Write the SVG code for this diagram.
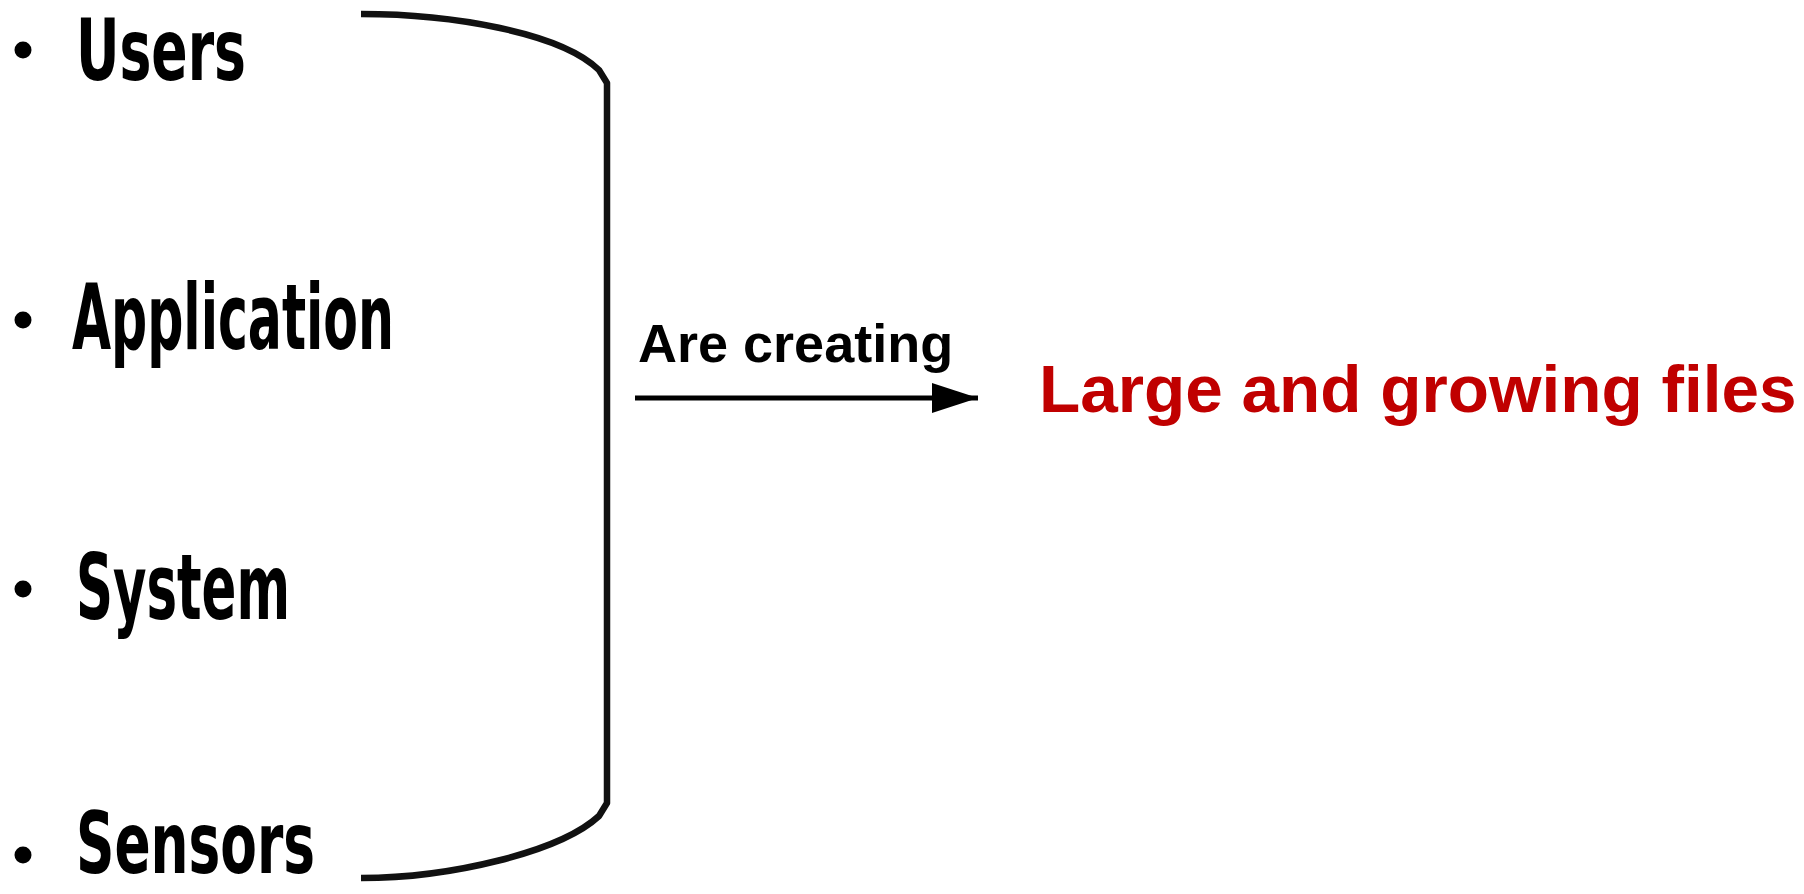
<svg xmlns="http://www.w3.org/2000/svg" width="1804" height="894" viewBox="0 0 1804 894">
  <style>
    .src { font-family: "DejaVu Sans Condensed", "DejaVu Sans", sans-serif; font-weight: bold; font-stretch: condensed; font-size: 90px; fill: #000; }
    .edge { font-size: 86px; }
    .bullet { fill: #000; }
    .lbl { font-family: "Liberation Sans", Arial, sans-serif; font-weight: bold; font-size: 54px; fill: #000; }
    .out { font-family: "Liberation Sans", Arial, sans-serif; font-weight: bold; font-size: 67.5px; fill: #C00000; }
    .brace { fill: none; stroke: #111; stroke-width: 6.5; stroke-linejoin: round; }
    .flow { fill: none; stroke: #000; stroke-width: 5; }
  </style>
  <defs>
    <marker id="arrowhead" markerUnits="userSpaceOnUse" markerWidth="46" markerHeight="30" refX="46" refY="15" orient="auto">
      <path d="M0,0 L46,15 L0,30 Z" fill="#000"/>
    </marker>
  </defs>
  <rect width="1804" height="894" fill="#fff"/>

  <!-- sources -->
  <g id="users">
    <circle class="bullet" cx="23" cy="50" r="8.5"/>
    <text class="src edge" x="76" y="80" textLength="170" lengthAdjust="spacingAndGlyphs">Users</text>
  </g>
  <g id="application">
    <circle class="bullet" cx="23" cy="320" r="8.5"/>
    <text class="src" x="72" y="349" textLength="322" lengthAdjust="spacingAndGlyphs">Application</text>
  </g>
  <g id="system">
    <circle class="bullet" cx="23" cy="589" r="8.5"/>
    <text class="src" x="76" y="619" textLength="214" lengthAdjust="spacingAndGlyphs">System</text>
  </g>
  <g id="sensors">
    <circle class="bullet" cx="23" cy="855" r="8.5"/>
    <text class="src edge" x="76" y="873" textLength="239" lengthAdjust="spacingAndGlyphs">Sensors</text>
  </g>

  <!-- connectors -->
  <g id="connectors">
    <path class="brace" d="M361,14 C450,14 560,32 599,70 L607,83 L607,803 L599,816 C560,852 450,878 361,878"/>
    <line class="flow" x1="635" y1="398" x2="978" y2="398" marker-end="url(#arrowhead)"/>
    <text class="lbl" x="638" y="362">Are creating</text>
  </g>

  <!-- result -->
  <g id="large-files">
    <text class="out" x="1039" y="412">Large and growing files</text>
  </g>
</svg>
